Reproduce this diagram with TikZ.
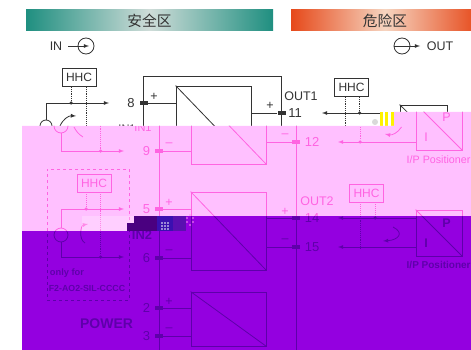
\documentclass[tikz,border=0pt]{standalone}
\usepackage{fontspec}
\setmainfont{Liberation Sans}
\newfontfamily\cjk{Noto Sans CJK SC}
\usepackage{tikz}
\usetikzlibrary{calc}
\usetikzlibrary{arrows}
\usetikzlibrary{positioning}
\definecolor{ink}{HTML}{333333}
\definecolor{tealbar}{HTML}{1F8F80}
\definecolor{tealmid}{HTML}{CFDCD8}
\definecolor{redbar}{HTML}{E6491A}
\definecolor{redmid}{HTML}{F6D4C0}
\definecolor{pinkink}{rgb}{1,.4,.85}
\definecolor{pinktint}{HTML}{FFC0FF}
\definecolor{purpleink}{rgb}{.55,0,.7}
\definecolor{purpletint}{HTML}{9400E0}
\definecolor{patchA}{HTML}{4A0080}
\definecolor{patchB}{HTML}{3A10B0}
\definecolor{patchC}{HTML}{5A10B0}
\definecolor{patchdot}{HTML}{FF90F0}
\tikzset{
  wire/.style={draw=ink, line width=0.8pt},
  dots/.style={draw=ink, line width=0.9pt, densely dotted},
  term/.style={rectangle, fill=ink, minimum width=8pt, minimum height=4pt, inner sep=0pt},
  junction/.style={circle, fill=ink, minimum size=3.5pt, inner sep=0pt},
  conv/.style={rectangle, draw=ink, line width=0.8pt, inner sep=0pt},
  hhc/.style={rectangle, draw=ink, line width=0.8pt, minimum width=34pt, minimum height=18pt, inner sep=0pt, text=ink, font=\fontsize{12}{14}\selectfont},
  lab/.style={text=ink, inner sep=0pt, font=\fontsize{12.5}{15}\selectfont},
  numlab/.style={text=ink, inner sep=0pt, font=\fontsize{13}{15}\selectfont},
  src/.style={circle, draw=ink, line width=0.8pt, minimum size=14pt, inner sep=0pt}
}
\begin{document}
\begin{tikzpicture}[x=1pt, y=-1pt, >=latex]
\useasboundingbox (0,0) rectangle (471,350);
\fill [white] (0,0) rectangle (471,350);

% banners
\node [rectangle, minimum width=247pt, minimum height=21pt, inner sep=0pt, left color=tealbar, right color=tealbar, middle color=tealmid, text=ink, font=\cjk\fontsize{14.7}{16}\selectfont] (safe) at (149.5,20.5) {安全区};
\node [rectangle, minimum width=188pt, minimum height=21pt, inner sep=0pt, left color=redbar, right color=redbar, middle color=redmid, text=ink, font=\cjk\fontsize{14.7}{16}\selectfont] (danger) at (385,20.5) {危险区};

% legend
\node [lab] (inlab) at (56,46) {IN};
\node [src, minimum size=16pt] (insym) at (86,46) {};
\coordinate (instart) at (68,46);
\coordinate (intip) at (89,46);
\draw [wire, ->] (instart) to (intip);
\node [src, minimum size=16pt] (outsym) at (402,46) {};
\coordinate (outstart) at (394,46);
\coordinate (outtip) at (420,46);
\draw [wire, ->] (outstart) to (outtip);
\node [lab] (outlab) at (440,46) {OUT};

% upper loop, safe side
\node [hhc] (hhcA) at (79,77.5) {HHC};
\node [src, minimum size=12pt] (srcA) at (46,126) {};
\node [junction] (jA) at (71,103) {};
\coordinate (tipA) at (109,103);
\coordinate (arcA) at (60,126);
\coordinate (arctipA) at (76,116);
\coordinate (dropA) at (86,127);
\draw [wire, ->] (srcA.north) |- (tipA);
\draw [dots] (hhcA.south -| jA) to (jA);
\draw [dots] (hhcA.south -| dropA) to (dropA);
\draw [wire, ->] (arcA) to [bend left=35] (arctipA);

% upper channel
\node [conv, minimum width=75pt, minimum height=78pt] (convA) at (213.5,125) {};
\draw [wire] (convA.north west) to (convA.south east);
\coordinate (frameTL) at (143.6,76);
\coordinate (frameTR) at (281.6,76);
\draw [wire] ($(frameTL)+(0,60)$) |- (frameTR) -- ($(frameTR)+(0,60)$);
\node [term] (t8) at (144,103) {};
\node [term] (t11) at (281.6,113) {};
\node [numlab] (n8) at (131,103) {8};
\node [numlab] (n11) at (295,113) {11};
\node [lab] (s8) at (154,97) {+};
\node [lab] (s11) at (270,106) {+};
\node [lab] (out1) at (301,96.5) {OUT1};
\node [lab, anchor=south, font=\fontsize{11}{13}\selectfont] (in1) at (127,133) {IN1};
\draw [wire] (t8) to (t8 -| convA.west);
\draw [wire] (t11) to (t11 -| convA.east);

% upper loop, field side
\node [hhc] (hhcB) at (351.5,87.5) {HHC};
\node [junction] (jB) at (359.6,113) {};
\coordinate (tipB) at (322,113);
\coordinate (endB) at (381,113);
\coordinate (dropB) at (345,127);
\draw [wire, ->] (endB) to (tipB);
\draw [dots] (hhcB.south -| jB) to (jB);
\draw [dots] (hhcB.south -| dropB) to (dropB);
\node [conv, minimum width=47pt, minimum height=46pt] (posA) at (423.5,128) {};
\draw [wire] (posA.north west) to (posA.south east);
\fill [yellow] (380,112) rectangle (382.5,126);
\fill [yellow] (385,112) rectangle (387.5,126);
\fill [yellow] (391,112) rectangle (393.5,126);
\fill [gray!30] (375,122) circle (3);

% white ground under the two lower bands
\fill [white] (22,126) -- (394,126) -- (394,112) -- (471,112) -- (471,350) -- (22,350) -- cycle;

\begin{scope}
\clip (22,126) -- (394,126) -- (394,112) -- (471,112) -- (471,350) -- (22,350) -- cycle;
% frame and converters
\coordinate (frameBL) at (159,120);
\coordinate (frameBR) at (296,120);
\draw [wire] (frameBL) -- ++(0,232);
\draw [wire] (frameBR) -- ++(0,232);
\node [conv, minimum width=75pt, minimum height=78pt] (convB) at (228.5,125) {};
\node [conv, minimum width=75pt, minimum height=78pt] (convC) at (228.5,231) {};
\node [conv, minimum width=75pt, minimum height=54pt] (convP) at (228.5,319) {};
\foreach \b in {convB,convC,convP}
  \draw [wire] (\b.north west) to (\b.south east);
% safe side terminals
\foreach \n/\y/\s in {9/151/--,5/209/+,6/258/--,2/308/+,3/336/--} {
  \node [term] (t\n) at (159,\y) {};
  \node [numlab] (n\n) at (146.5,\y) {\n};
  \node [lab] (s\n) at (169,\y-6) {\s};
}
\draw [wire] (t9) to (t9 -| convB.west);
\draw [wire] (t5) to (t5 -| convC.west);
\draw [wire] (t6) to (t6 -| convC.west);
\draw [wire] (t2) to (t2 -| convP.west);
\draw [wire] (t3) to (t3 -| convP.west);
% field side terminals
\foreach \n/\y/\s in {12/142/--,14/218/+,15/247/--} {
  \node [term] (t\n) at (296,\y) {};
  \node [numlab] (n\n) at (312,\y) {\n};
  \node [lab] (s\n) at (285,\y-6) {\s};
}
\draw [wire] (t12) to (t12 -| convB.east);
\draw [wire] (t14) to (t14 -| convC.east);
\draw [wire] (t15) to (t15 -| convC.east);
\node [lab, font=\fontsize{11}{13}\selectfont] (in1b) [anchor=south] at (143,132) {IN1};
\node [lab, font=\bfseries\fontsize{12.9}{15}\selectfont] (in2) at (142,235) {IN2};
\node [lab] (out2) at (317,201) {OUT2};
\node [lab, font=\bfseries\fontsize{14}{16}\selectfont] (power) at (106.5,324) {POWER};
% lower left loops
\node [src] (srcB) at (61,126) {};
\node [junction] (jC) at (100.7,151) {};
\coordinate (tipC) at (124,151);
\coordinate (riseC) at (100.7,120);
\draw [wire, ->] (srcB.south) |- (tipC);
\draw [dots] (riseC) to (jC);
\draw [wire] (74,127) to [bend right=15] (83,137);
\node [rectangle, draw=ink, dashed, line width=0.8pt, minimum width=82pt, minimum height=131pt, inner sep=0pt] (only) at (88,234.5) {};
\node [hhc] (hhcC) at (94,183) {HHC};
\node [src] (srcC) at (61,235) {};
\node [junction] (jD) at (86,209) {};
\node [junction] (jE) at (100.7,257) {};
\coordinate (tipD) at (124,209);
\coordinate (tipE) at (124,257);
\draw [wire, ->] (srcC.north) |- (tipD);
\draw [wire, ->] (srcC.south) |- (tipE);
\draw [dots] (hhcC.south -| jD) to (jD);
\draw [dots] (hhcC.south -| jE) to (jE);
\draw [wire, ->] (85,243) to [bend left=70] (88,224);
\node [lab, font=\bfseries\fontsize{9.3}{11}\selectfont] (onlyfor) at (67,273) {only for};
\node [lab, font=\bfseries\fontsize{8.8}{11}\selectfont] (model) at (87,288) {F2-AO2-SIL-CCCC};
% lower right loops
\node [conv, minimum width=46pt, minimum height=46pt] (posB) at (439,127) {};
\node [conv, minimum width=46pt, minimum height=46pt] (posC) at (439,233) {};
\foreach \b in {posB,posC}
  \draw [wire] (\b.north west) to (\b.south east);
\node [lab] (pB) at (446.5,117) {P};
\node [lab] (iB) at (426,137) {I};
\node [lab, font=\bfseries\fontsize{12.5}{15}\selectfont] (pC) at (446.5,223) {P};
\node [lab, font=\bfseries\fontsize{12.5}{15}\selectfont] (iC) at (426,243) {I};
\node [lab, font=\fontsize{10.7}{13}\selectfont, anchor=west] (ipB) at (406.5,160) {I/P Positioner};
\node [lab, font=\bfseries\fontsize{10}{12}\selectfont, anchor=west] (ipC) at (406.5,265) {I/P Positioner};
\node [junction] (jF) at (360,142) {};
\coordinate (tipF) at (338,142);
\coordinate (tipG) at (338,218);
\coordinate (tipH) at (338,247);
\draw [wire, ->] (posB.west |- tipF) to (tipF);
\draw [wire, ->] (posC.west |- tipG) to (tipG);
\draw [wire, ->] (posC.west |- tipH) to (tipH);
\draw [wire, ->] (401.5,127) to [bend left=35] (385,134);
\draw [dots] (360,127) to (jF);
\node [hhc] (hhcD) at (366.5,193) {HHC};
\node [junction] (jG) at (375,218) {};
\coordinate (footG) at (360,249);
\draw [dots] (hhcD.south -| jG) to (jG);
\draw [dots] (hhcD.south -| footG) to (footG);
\draw [wire, ->] (393,227) .. controls (405,233) and (398,240) .. (383,241);
\end{scope}

% colour bands
\path [fill=pinkink, blend mode=screen] (22,126) -- (394,126) -- (394,112) -- (471,112) -- (471,216) -- (134,216) -- (134,223) -- (127,223) -- (127,231) -- (22,231) -- cycle;
\path [fill=pinktint, blend mode=multiply] (22,126) -- (394,126) -- (394,112) -- (471,112) -- (471,216) -- (134,216) -- (134,223) -- (127,223) -- (127,231) -- (22,231) -- cycle;
\path [fill=purpleink, blend mode=screen] (22,231) -- (127,231) -- (127,223) -- (134,223) -- (134,216) -- (471,216) -- (471,350) -- (22,350) -- cycle;
\path [fill=purpletint, blend mode=multiply] (22,231) -- (127,231) -- (127,223) -- (134,223) -- (134,216) -- (471,216) -- (471,350) -- (22,350) -- cycle;

% damaged patch
\fill [white, opacity=0.25] (82,216) rectangle (134,231);
\fill [patchA] (134,216) rectangle (157,231);
\fill [patchA] (127,223) rectangle (134,231);
\fill [patchB] (157,216) rectangle (173,231);
\fill [patchC] (173,216) rectangle (186,231);
\foreach \u in {162,165,168}
  \foreach \v in {223,226,229}
    \fill [white] (\u,\v) circle (0.9);
\foreach \u/\v in {187/218,190/215,193/218,187/222,193/222,190/225}
  \fill [patchdot] (\u,\v) circle (0.9);
\end{tikzpicture}
\end{document}
